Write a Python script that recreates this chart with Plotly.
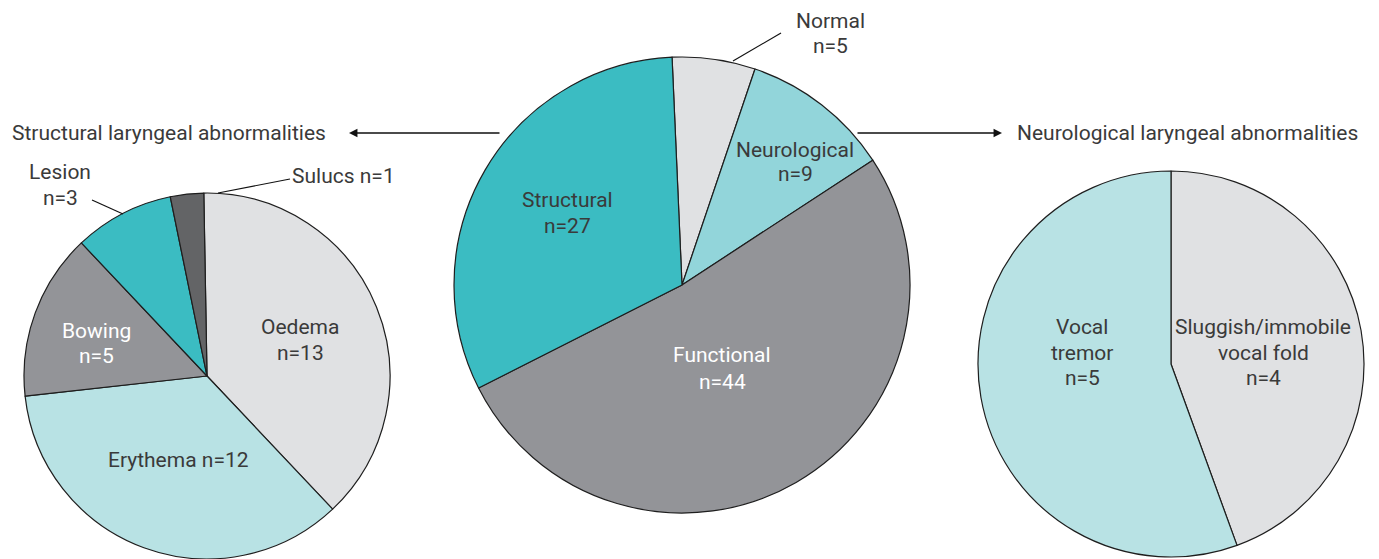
import plotly.graph_objects as go

W, H = 1379, 559
OFF = 8  # page body margin in the browser

# ---- data ----
main_labels = ["Normal", "Neurological", "Functional", "Structural"]
main_values = [5, 9, 44, 27]
main_colors = ["#e0e1e3", "#92d5da", "#939498", "#3bbcc2"]

struct_labels = ["Oedema", "Erythema", "Bowing", "Lesion", "Sulucs"]
struct_values = [13, 12, 5, 3, 1]
struct_colors = ["#e0e1e3", "#b8e2e4", "#939498", "#3bbcc2", "#636466"]

neuro_labels = ["Sluggish/immobile vocal fold", "Vocal tremor"]
neuro_values = [4, 5]
neuro_colors = ["#e0e1e3", "#b8e2e4"]

TXT = "#3a3a3a"
FONT = "Roboto"
FS = 21


def px(x):
    return (x - OFF) / W


def py(y):
    return 1 - (y - OFF) / H


def dom(x0, x1, y0, y1):
    return dict(x=[px(x0), px(x1)], y=[py(y1), py(y0)])


fig = go.Figure()
line = dict(color="#1e1e1e", width=1.2)

fig.add_trace(go.Pie(labels=main_labels, values=main_values, sort=False, direction="clockwise",
                     rotation=-2.5, marker=dict(colors=main_colors, line=line), textinfo="none",
                     hoverinfo="skip", showlegend=False, domain=dom(454, 910, 57, 513)))
fig.add_trace(go.Pie(labels=struct_labels, values=struct_values, sort=False, direction="clockwise",
                     rotation=-1, marker=dict(colors=struct_colors, line=line), textinfo="none",
                     hoverinfo="skip", showlegend=False, domain=dom(24, 390, 193, 559)))
fig.add_trace(go.Pie(labels=neuro_labels, values=neuro_values, sort=False, direction="clockwise",
                     rotation=0, marker=dict(colors=neuro_colors, line=line), textinfo="none",
                     hoverinfo="skip", showlegend=False, domain=dom(978, 1364, 171, 557)))

annotations = []


def label(text, x, y, color=TXT, xanchor="center"):
    annotations.append(dict(text=text, x=px(x), y=py(y), xref="paper", yref="paper",
                            xanchor=xanchor, yanchor="middle", showarrow=False,
                            font=dict(family=FONT, size=FS, color=color)))


def n(v):
    return f"n={v}"


# main pie labels
label(main_labels[0], 830, 21); label(n(main_values[0]), 830, 46)
label(main_labels[1], 795, 150); label(n(main_values[1]), 795, 174)
label(main_labels[2], 722, 355, "#ffffff"); label(n(main_values[2]), 722, 382, "#ffffff")
label(main_labels[3], 567, 200); label(n(main_values[3]), 567, 226)

# structural pie labels
label(struct_labels[0], 300, 327); label(n(struct_values[0]), 300, 353)
label(f"{struct_labels[1]} {n(struct_values[1])}", 178, 460)
label(struct_labels[2], 96, 331, "#ffffff"); label(n(struct_values[2]), 96, 356, "#ffffff")
label(struct_labels[3], 60, 172); label(n(struct_values[3]), 60, 198)
label(f"{struct_labels[4]} {n(struct_values[4])}", 343, 176)

# neurological pie labels
label("Vocal", 1082, 327); label("tremor", 1082, 353); label(n(neuro_values[1]), 1082, 378)
label("Sluggish/immobile", 1263, 327); label("vocal fold", 1263, 353); label(n(neuro_values[0]), 1263, 378)

# section titles
label("Structural laryngeal abnormalities", 10, 133, xanchor="left")
label("Neurological laryngeal abnormalities", 1015, 133, xanchor="left")

# arrows
for head, tail in [((349, 133), (501, 133)), ((1002, 133), (856, 133))]:
    annotations.append(dict(text="", x=px(head[0]), y=py(head[1]), xref="paper", yref="paper",
                            ax=tail[0] - head[0], ay=tail[1] - head[1], axref="pixel", ayref="pixel",
                            showarrow=True, arrowhead=2, arrowsize=1.3, arrowwidth=1.3,
                            arrowcolor="#111111", standoff=0, startstandoff=0))

shapes = []
for (x0, y0), (x1, y1) in [((733, 61), (781, 33)), ((218, 193), (290, 179)), ((92, 200), (123, 214))]:
    shapes.append(dict(type="line", xref="paper", yref="paper", x0=px(x0), y0=py(y0),
                       x1=px(x1), y1=py(y1), line=dict(color="#111111", width=1.2)))

fig.update_layout(width=W, height=H, margin=dict(l=0, r=0, t=0, b=0),
                  paper_bgcolor="white", plot_bgcolor="white",
                  annotations=annotations, shapes=shapes,
                  font=dict(family=FONT, size=FS, color=TXT))

fig.write_html("out.html")
